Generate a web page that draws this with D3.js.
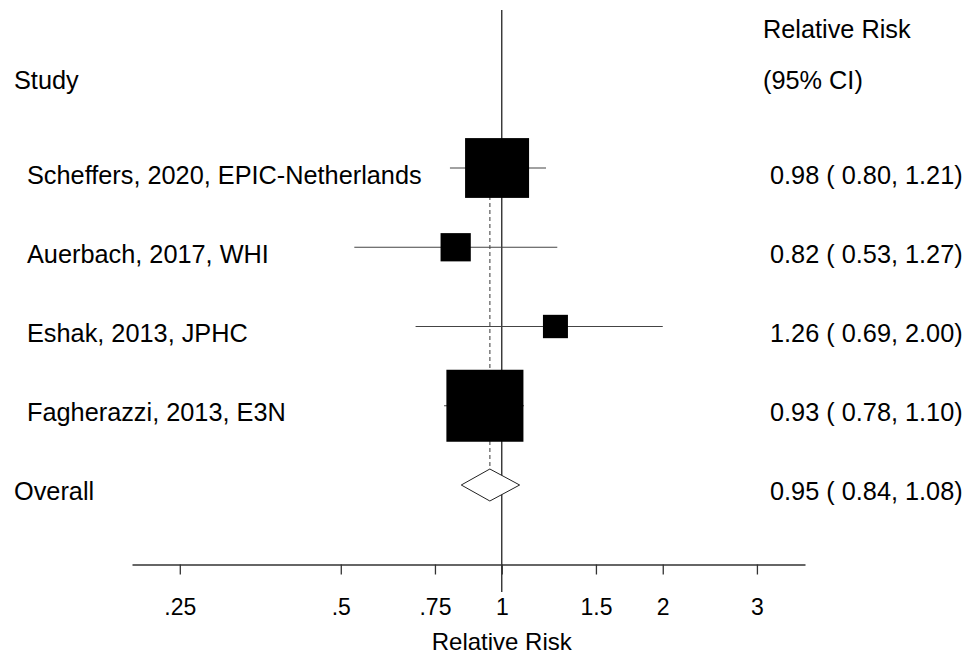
<!DOCTYPE html>
<html>
<head>
<meta charset="utf-8">
<script src="https://cdn.jsdelivr.net/npm/d3@7"></script>
<style>
  body { margin: 0; background: #fff; }
  text { font-family: "Liberation Sans", Arial, Helvetica, sans-serif; fill: #000; }
</style>
</head>
<body>
<div id="forest"></div>
<script>
// Study data (relative risks with 95% CI)
const studies = [
  "Scheffers, 2020, EPIC-Netherlands",
  "Auerbach, 2017, WHI",
  "Eshak, 2013, JPHC",
  "Fagherazzi, 2013, E3N"
];
const rr = [0.98, 0.82, 1.26, 0.93];
const lower = [0.80, 0.53, 0.69, 0.78];
const upper = [1.21, 1.27, 2.00, 1.10];
const weights = [35.4, 7.9, 5.4, 51.3];

const overallLabel = "Overall";
const overallRR = 0.95;
const overallLower = 0.84;
const overallUpper = 1.08;

const tickValues = [0.25, 0.5, 0.75, 1, 1.5, 2, 3];
const tickLabels = [".25", ".5", ".75", "1", "1.5", "2", "3"];

const width = 967, height = 655;
const axisY = 564.5;
const fontSize = 25.3;

const svg = d3.select("#forest").append("svg")
  .attr("width", width)
  .attr("height", height);

svg.append("rect").attr("width", width).attr("height", height).attr("fill", "#fff");

// Log scale for relative risk
const x = d3.scaleLog()
  .domain([0.2035, 3.69])
  .range([132, 805]);

// Row positions (studies then overall)
const y = d3.scaleLinear()
  .domain([0, studies.length])
  .range([168, 485]);

// Box side from study weight
const boxSize = d3.scaleSqrt()
  .domain([0, d3.max(weights)])
  .range([0, 72]);

const fmt = d3.format(".2f");

// Null line at RR = 1
svg.append("line")
  .attr("x1", x(1)).attr("x2", x(1))
  .attr("y1", 10).attr("y2", 592)
  .attr("stroke", "#222")
  .attr("stroke-width", 1.3);

// Dashed line at overall estimate
svg.append("line")
  .attr("x1", x(overallRR)).attr("x2", x(overallRR))
  .attr("y1", y(0)).attr("y2", y(studies.length))
  .attr("stroke", "#707070")
  .attr("stroke-width", 1.4)
  .attr("stroke-dasharray", "4,3");

const rows = studies.map((s, i) => ({ name: s, rr: rr[i], lo: lower[i], hi: upper[i], w: weights[i], i }));

// Confidence interval lines
svg.selectAll(".ci")
  .data(rows)
  .enter().append("line")
  .attr("class", "ci")
  .attr("x1", d => x(d.lo))
  .attr("x2", d => x(d.hi))
  .attr("y1", d => y(d.i))
  .attr("y2", d => y(d.i))
  .attr("stroke", "#444")
  .attr("stroke-width", 1.1);

// Weighted boxes
svg.selectAll(".box")
  .data(rows)
  .enter().append("rect")
  .attr("class", "box")
  .attr("x", d => x(d.rr) - boxSize(d.w) * 1.07 / 2)
  .attr("y", d => y(d.i) - boxSize(d.w) / 2)
  .attr("width", d => boxSize(d.w) * 1.07)
  .attr("height", d => boxSize(d.w))
  .attr("fill", "#000");

// Overall diamond
const oy = y(studies.length);
svg.append("path")
  .attr("d", `M${x(overallLower)},${oy} L${x(overallRR)},${oy - 16} L${x(overallUpper)},${oy} L${x(overallRR)},${oy + 16} Z`)
  .attr("fill", "#fff")
  .attr("stroke", "#222")
  .attr("stroke-width", 1);

// Left labels
svg.selectAll(".study-label")
  .data(rows)
  .enter().append("text")
  .attr("class", "study-label")
  .attr("x", 27)
  .attr("y", d => y(d.i) + 15.5)
  .attr("font-size", fontSize)
  .text(d => d.name);

svg.append("text")
  .attr("x", 14)
  .attr("y", oy + 14.5)
  .attr("font-size", fontSize)
  .text(overallLabel);

// Right labels
svg.selectAll(".rr-label")
  .data(rows)
  .enter().append("text")
  .attr("class", "rr-label")
  .attr("x", 770)
  .attr("y", d => y(d.i) + 15.5)
  .attr("font-size", fontSize)
  .text(d => `${fmt(d.rr)} ( ${fmt(d.lo)}, ${fmt(d.hi)})`);

svg.append("text")
  .attr("x", 770)
  .attr("y", oy + 14.5)
  .attr("font-size", fontSize)
  .text(`${fmt(overallRR)} ( ${fmt(overallLower)}, ${fmt(overallUpper)})`);

// Column headers
svg.append("text").attr("x", 14).attr("y", 89.3).attr("font-size", fontSize).text("Study");
svg.append("text").attr("x", 763).attr("y", 37.7).attr("font-size", fontSize).text("Relative Risk");
svg.append("text").attr("x", 763).attr("y", 89.3).attr("font-size", fontSize).text("(95% CI)");

// X axis
const axis = svg.append("g")
  .attr("transform", `translate(0,${axisY})`)
  .call(d3.axisBottom(x)
    .tickValues(tickValues)
    .tickFormat((d, i) => tickLabels[i])
    .tickSize(10)
    .tickSizeOuter(0)
    .tickPadding(24));

axis.select(".domain").attr("stroke", "#333").attr("stroke-width", 1.3);
axis.selectAll(".tick line").attr("stroke", "#333").attr("stroke-width", 1.3);
axis.selectAll(".tick text")
  .attr("font-size", 23)
  .attr("fill", "#000")
  .style("font-family", "'Liberation Sans', Arial, Helvetica, sans-serif");

// X axis label
svg.append("text")
  .attr("x", x(1))
  .attr("y", 650)
  .attr("text-anchor", "middle")
  .attr("font-size", 24)
  .text("Relative Risk");
</script>
</body>
</html>
